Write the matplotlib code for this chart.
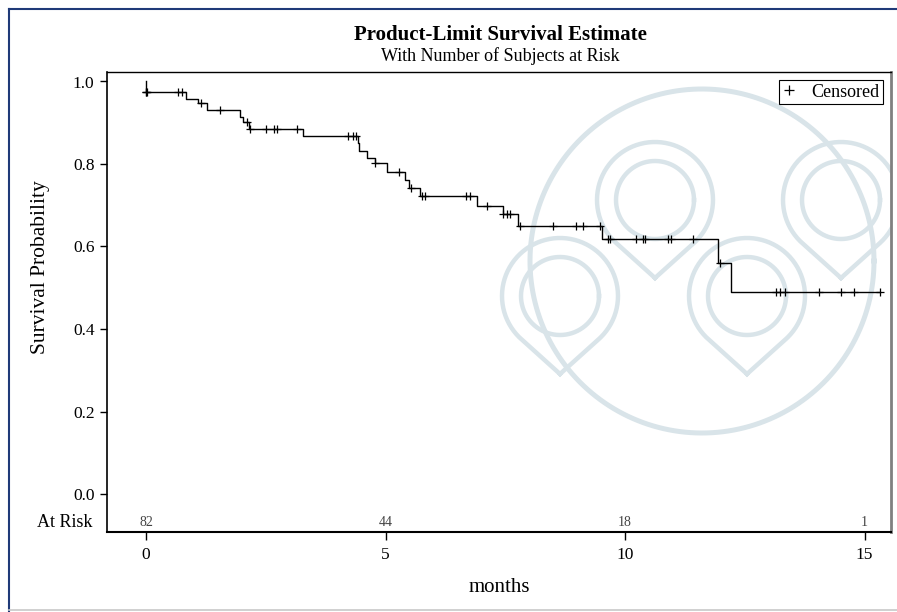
import numpy as np
import matplotlib
matplotlib.use("Agg")
import matplotlib.pyplot as plt
from matplotlib.lines import Line2D

plt.rcParams['font.family'] = ['Liberation Serif', 'DejaVu Serif']

# step times (months) and survival just after each step
step_times = [0.0, 0.835, 1.08, 1.28, 1.96, 2.03, 2.16, 3.28, 4.43, 4.45, 4.61,
              4.78, 5.04, 5.41, 5.50, 5.72, 6.90, 7.45, 7.77, 9.53, 11.94, 12.21]
step_surv = [0.9756, 0.958, 0.947, 0.930, 0.915, 0.903, 0.884, 0.869, 0.850, 0.832, 0.814,
             0.802, 0.780, 0.761, 0.741, 0.722, 0.698, 0.679, 0.650, 0.618, 0.559, 0.489]

# censored times
cens_times = [0.0, 0.0, 0.02, 0.675, 0.745, 1.15, 1.545, 2.10, 2.17, 2.50, 2.67, 2.73,
              3.15, 4.22, 4.33, 4.38, 4.78, 5.28, 5.54, 5.76, 5.82, 6.69, 6.76, 7.11,
              7.46, 7.54, 7.60, 7.81, 8.50, 8.97, 9.13, 9.48, 9.65, 9.69, 10.24, 10.38,
              10.42, 10.89, 10.96, 11.41, 11.98, 13.15, 13.24, 13.34, 14.06, 14.51,
              14.78, 15.32]

risk_times = [0, 5, 10, 15]
risk_counts = [82, 44, 18, 1]

W, H = 897, 612
fig = plt.figure(figsize=(W / 100, H / 100), dpi=100)
fig.patch.set_facecolor('white')

# plot box in pixels
L, R, T, B = 107, 891, 72, 532
rect = [L / W, 1 - B / H, (R - L) / W, (B - T) / H]

# watermark behind the plot
wm = fig.add_axes(rect, zorder=0)
wm.set_xlim(L, R)
wm.set_ylim(B, T)
wm.axis('off')
wcol = '#d9e4e9'
a = np.linspace(0, 2 * np.pi, 400)
wm.plot(702 + 172 * np.cos(a), 261 + 172 * np.sin(a), color=wcol, lw=3.6)


def teardrop(cx, cy, r_out, r_in, d):
    th = np.arccos(r_out / d)
    ang = np.linspace(np.pi / 2 + th, np.pi / 2 - th + 2 * np.pi, 200)
    xo = np.concatenate([[cx], cx + r_out * np.cos(ang), [cx]])
    yo = np.concatenate([[cy + d], cy + r_out * np.sin(ang), [cy + d]])
    wm.plot(xo, yo, color=wcol, lw=3.2, solid_joinstyle='round')
    wm.plot(cx + r_in * np.cos(a), cy + r_in * np.sin(a), color=wcol, lw=3.2)


for cx, cy in [(655, 200), (841, 200), (560, 296), (747, 296)]:
    teardrop(cx, cy, 58, 39, 78)

ax = fig.add_axes(rect, zorder=1)
ax.set_facecolor('none')

# survival curve
end_t = max(cens_times)
xs = [0.0] + step_times + [end_t]
ys = [1.0] + step_surv + [step_surv[-1]]
ax.step(xs, ys, where='post', color='black', lw=1.0)

st = np.array(step_times)
sv = np.array(step_surv)
cy_vals = sv[np.searchsorted(st, cens_times, side='right') - 1]
ax.plot(cens_times, cy_vals, linestyle='none', marker='+', ms=6, mew=0.9, color='black')

for t, n in zip(risk_times, risk_counts):
    ax.text(t, -0.068, str(n), ha='center', va='center', fontsize=10, color='#444444')
ax.text(-0.018, -0.068, 'At Risk', transform=ax.get_yaxis_transform(),
        ha='right', va='center', fontsize=13)

ax.set_xlim((L - 146) / 47.9, (R - 146) / 47.9)
ax.set_ylim((494 - B) / 412.5, 1 + (81.5 - T) / 412.5)
ax.set_xticks(risk_times)
ax.set_yticks(np.arange(0, 1.01, 0.2))
ax.set_yticklabels(['%.1f' % v for v in np.arange(0, 1.01, 0.2)])
ax.tick_params(axis='x', length=6, width=1, pad=5, labelsize=12.5, direction='out')
ax.tick_params(axis='y', length=5, width=1, pad=4, labelsize=12.5, direction='out')
for s in ['left', 'bottom', 'top']:
    ax.spines[s].set_color('black')
ax.spines['left'].set_linewidth(1.2)
ax.spines['bottom'].set_linewidth(1.5)
ax.spines['top'].set_linewidth(1.0)
ax.spines['right'].set_color('#808080')
ax.spines['right'].set_linewidth(2.0)

h = Line2D([], [], linestyle='none', marker='+', ms=7, mew=0.9, color='black')
ax.legend([h], ['Censored'], loc='upper right', frameon=True, fancybox=False,
          edgecolor='black', framealpha=1, borderaxespad=0.45, handlelength=0.8,
          handletextpad=0.8, borderpad=0.2, fontsize=13).get_frame().set_linewidth(0.8)

fig.text(500 / W, 1 - 35 / H, 'Product-Limit Survival Estimate', ha='center', va='center',
         fontsize=15, fontweight='bold')
fig.text(500 / W, 1 - 56 / H, 'With Number of Subjects at Risk', ha='center', va='center',
         fontsize=13)
fig.text(40 / W, 1 - 267 / H, 'Survival Probability', rotation=90, ha='center', va='center',
         fontsize=15.5)
fig.text(499 / W, 1 - 587 / H, 'months', ha='center', va='center', fontsize=15)

# outer frame
fig.add_artist(Line2D([9 / W, 9 / W], [0, 1 - 9 / H], color='#1f3a78', lw=1.5))
fig.add_artist(Line2D([9 / W, 1], [1 - 9 / H, 1 - 9 / H], color='#1f3a78', lw=1.5))
fig.add_artist(Line2D([9 / W, 1], [1 - 610 / H, 1 - 610 / H], color='#c8c8c8', lw=1.2))

fig.savefig('out.png', dpi=100)
